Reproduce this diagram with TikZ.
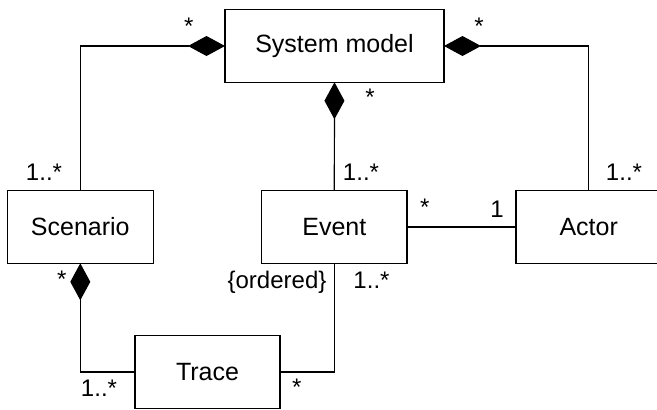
\documentclass[tikz,border=0pt]{standalone}
\usepackage{fontspec}
\setmainfont{Liberation Sans}
\usetikzlibrary{arrows.meta}

\tikzset{
  cls/.style={draw, line width=1.2pt, inner sep=0pt, outer sep=0pt,
    minimum height=72.6pt, font=\fontsize{25}{30}\selectfont},
  mult/.style={anchor=base, inner sep=0pt, font=\fontsize{24}{29}\selectfont},
  assoc/.style={line width=1.2pt},
  comp/.style={assoc, {Diamond[length=37pt,width=20pt]}-},
}

\begin{document}
\begin{tikzpicture}[x=1pt, y=-1pt]
  \useasboundingbox (0,0) rectangle (657,410);
  \clip (0,0) rectangle (657,410);

  % classes
  \node[cls, minimum width=219pt, minimum height=72.5pt] (sm) at (334.5,46) {System model};
  \node[cls, minimum width=146pt] (scen)  at (80.3,227)  {Scenario};
  \node[cls, minimum width=145.3pt] (event) at (334.3,227) {Event};
  \node[cls, minimum width=145.4pt] (actor) at (588.7,227) {Actor};
  \node[cls, minimum width=145pt] (trace) at (207.5,372) {Trace};

  % compositions
  \draw[comp] (sm.west) -| (scen.north);
  \draw[comp] (sm.east) -| (actor.north);
  \draw[comp] (sm.south) -- (event.north);
  \draw[comp] (scen.south) |- (trace.west);

  % plain associations
  \draw[assoc] (trace.east) -| (event.south);
  \draw[assoc] (event.east) -- (actor.west);

  % multiplicities
  \node[mult] (m1)  at (188.7,34)   {*};
  \node[mult] (m2)  at (44,180.7)   {1..*};
  \node[mult] (m3)  at (479,34)     {*};
  \node[mult] (m4)  at (624,180.7)  {1..*};
  \node[mult] (m5)  at (370,105.7)  {*};
  \node[mult] (m6)  at (361,180.7)  {1..*};
  \node[mult] (m7)  at (424.7,215)  {*};
  \node[mult] (m8)  at (497,217.7)  {1};
  \node[mult] (m9)  at (277,288.3)  {\{ordered\}};
  \node[mult] (m10) at (371.5,288.3) {1..*};
  \node[mult] (m11) at (61.7,287.3) {*};
  \node[mult] (m12) at (99,396.7)   {1..*};
  \node[mult] (m13) at (296.7,395.7) {*};
\end{tikzpicture}
\end{document}
